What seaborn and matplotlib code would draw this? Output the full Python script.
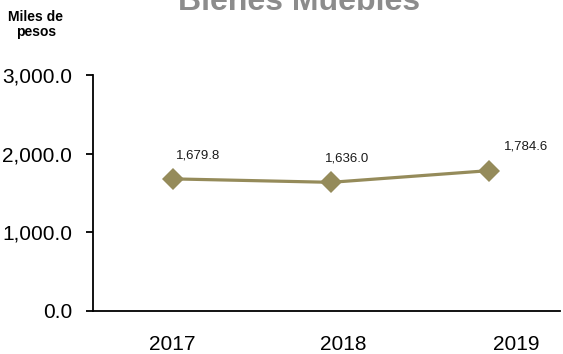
import numpy as np
import pandas as pd
import matplotlib
matplotlib.use("Agg")
import matplotlib.pyplot as plt
import seaborn as sns

# Values
years = ["2017", "2018", "2019"]
values = [1679.8, 1636.0, 1784.6]
y_ticks = [0, 1000, 2000, 3000]

df = pd.DataFrame({"pos": np.arange(len(years)), "Año": years, "Miles de pesos": values})

sns.set_theme(style="white")
plt.rcParams["font.family"] = ["Liberation Sans", "DejaVu Sans"]

fig = plt.figure(figsize=(5.63, 3.54), dpi=100)
ax = fig.add_axes([0.165, 0.1215, 0.83, 0.6665])

line_color = "#958B5A"
sns.lineplot(data=df, x="pos", y="Miles de pesos", ax=ax, color=line_color,
             linewidth=2.3, marker="D", markersize=11.5, markeredgewidth=0)

# data labels (offsets in points)
offsets = [(2, 16.6), (-4.3, 17.3), (10.8, 17.3)]
for (x, v), off in zip(zip(df["pos"], df["Miles de pesos"]), offsets):
    ax.annotate(f"{v:,.1f}", (x, v), xytext=off, textcoords="offset points",
                ha="left", va="center", fontsize=9.5, color="#1a1a1a")

ax.set_xlim(-0.506, 2.45)
ax.set_ylim(0, 3000)
ax.set_yticks(y_ticks)
ax.set_yticklabels([f"{t:,.1f}" for t in y_ticks])
# category labels sit a bit wider than the points, as in the original
ax.set_xticks([-0.006, 1.08, 2.17])
ax.set_xticklabels(years)
ax.set_xlabel("")
ax.set_ylabel("")

for s in ["top", "right"]:
    ax.spines[s].set_visible(False)
for s in ["left", "bottom"]:
    ax.spines[s].set_color("black")
    ax.spines[s].set_linewidth(1.3)

ax.tick_params(axis="y", which="both", left=True, length=5, width=1.3,
               labelsize=15, pad=10, colors="black")
ax.tick_params(axis="x", bottom=False, labelsize=15, pad=11, colors="black")

fig.text(299 / 563, 1 - 9.5 / 354, "Bienes Muebles", ha="center", va="baseline",
         fontsize=23, fontweight="bold", color="#8c8c8c")
fig.text(36 / 563, 1 - 24.5 / 354, "Miles de\npesos", ha="center", va="center",
         fontsize=10, fontweight="bold", color="black", linespacing=1.15)

fig.savefig("out.png", dpi=100)
